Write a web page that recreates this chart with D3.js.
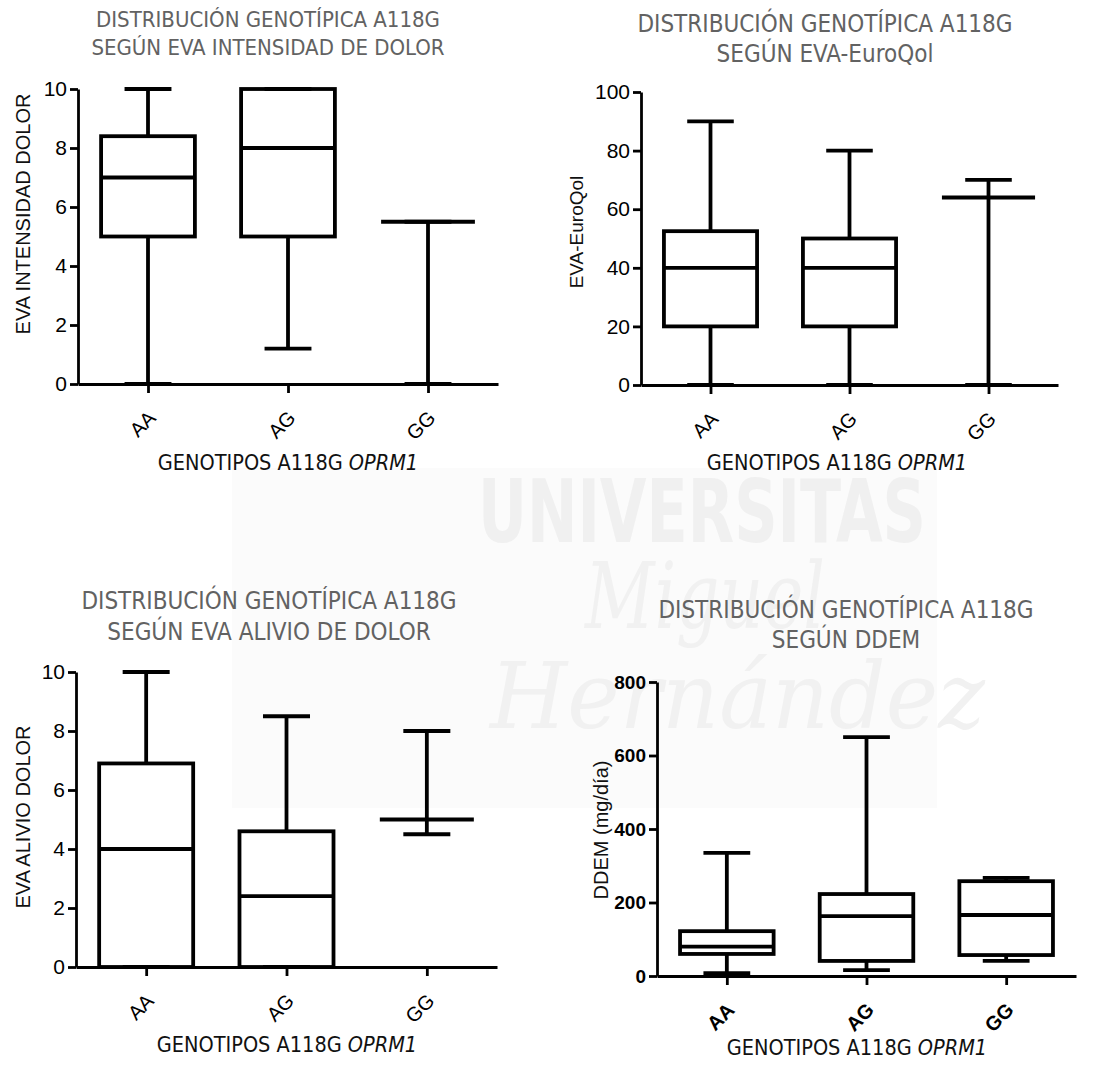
<!DOCTYPE html>
<html>
<head>
<meta charset="utf-8">
<script src="https://cdn.jsdelivr.net/npm/d3@7"></script>
<style>
  body { margin: 0; background: #fff; }
  svg { display: block; }
</style>
</head>
<body>
<div id="chart"></div>
<script>
// genotipos
const genotypes = ['AA', 'AG', 'GG'];

// cada fila: [min, q1, mediana, q3, max]
const intensidadDolor = [[0, 5, 7, 8.4, 10], [1.2, 5, 8, 10, 10], [0, 5.5, 5.5, 5.5, 5.5]];
const evaEuroqol = [[0, 20, 40, 52.5, 90], [0, 20, 40, 50, 80], [0, 64, 64, 64, 70]];
const alivioDolor = [[0, 0, 4, 6.9, 10], [0, 0, 2.4, 4.6, 8.5], [4.5, 5, 5, 5, 8]];
const ddem = [[8, 60, 80, 122, 335], [16, 41, 163, 223, 650], [41, 57, 166, 258, 267]];

const ticksEva = [0, 2, 4, 6, 8, 10];
const ticksEuroqol = [0, 20, 40, 60, 80, 100];
const ticksDdem = [0, 200, 400, 600, 800];

const titleTop = 'DISTRIBUCIÓN GENOTÍPICA A118G';
const xTitle = 'GENOTIPOS A118G ';
const xTitleItalic = 'OPRM1';

const W = 1102, H = 1065;

const svg = d3.select('#chart').append('svg')
  .attr('width', W)
  .attr('height', H);

// marca de agua (muy tenue)
const wm = svg.append('g').attr('class', 'watermark');
wm.append('rect')
  .attr('x', 232).attr('y', 468).attr('width', 705).attr('height', 340)
  .attr('fill', '#fbfbfb');
wm.append('text')
  .attr('x', 478).attr('y', 542)
  .attr('textLength', 448).attr('lengthAdjust', 'spacingAndGlyphs')
  .style('font-family', 'DejaVu Sans Condensed, DejaVu Sans')
  .style('font-weight', 'bold')
  .style('font-size', '88px')
  .style('fill', '#f0f0f0')
  .text('UNIVERSITAS');
wm.append('text')
  .attr('x', 585).attr('y', 628)
  .attr('textLength', 240).attr('lengthAdjust', 'spacingAndGlyphs')
  .style('font-family', 'DejaVu Serif')
  .style('font-style', 'italic')
  .style('font-size', '92px')
  .style('fill', '#f1f1f1')
  .text('Miguel');
wm.append('text')
  .attr('x', 490).attr('y', 728)
  .attr('textLength', 495).attr('lengthAdjust', 'spacingAndGlyphs')
  .style('font-family', 'DejaVu Serif')
  .style('font-style', 'italic')
  .style('font-size', '92px')
  .style('fill', '#f1f1f1')
  .text('Hernández');

const panels = [
  {
    data: intensidadDolor, ticks: ticksEva, max: 10,
    x0: 78, x1: 498, y0: 384, yTop: 89,
    title: [titleTop, 'SEGÚN EVA INTENSIDAD DE DOLOR'], titleX: 268, titleY: [27, 55], titleSize: 22,
    yLabel: 'EVA INTENSIDAD DOLOR', yLabelX: 23, yLabelY: 214, yLabelSize: 20,
    xLabelX: 288, xLabelY: 470, bold: false,
  },
  {
    data: evaEuroqol, ticks: ticksEuroqol, max: 100,
    x0: 641, x1: 1058, y0: 385, yTop: 92,
    title: [titleTop, 'SEGÚN EVA-EuroQol'], titleX: 825, titleY: [32, 62], titleSize: 24,
    yLabel: 'EVA-EuroQol', yLabelX: 576, yLabelY: 232, yLabelSize: 19,
    xLabelX: 837, xLabelY: 470, bold: false,
  },
  {
    data: alivioDolor, ticks: ticksEva, max: 10,
    x0: 76, x1: 497, y0: 967, yTop: 672,
    title: [titleTop, 'SEGÚN EVA ALIVIO DE DOLOR'], titleX: 269, titleY: [609, 640], titleSize: 24,
    yLabel: 'EVA ALIVIO DOLOR', yLabelX: 23, yLabelY: 817, yLabelSize: 20,
    xLabelX: 287, xLabelY: 1052, bold: false,
  },
  {
    data: ddem, ticks: ticksDdem, max: 800,
    x0: 657, x1: 1076, y0: 976, yTop: 682,
    title: [titleTop, 'SEGÚN DDEM'], titleX: 846, titleY: [618, 648], titleSize: 24,
    yLabel: 'DDEM (mg/día)', yLabelX: 601, yLabelY: 830, yLabelSize: 20,
    xLabelX: 857, xLabelY: 1055, bold: true,
  },
];

function drawPanel(p) {
  const g = svg.append('g').attr('class', 'panel');

  const y = d3.scaleLinear().domain([0, p.max]).range([p.y0, p.yTop]);
  const x = d3.scalePoint().domain(genotypes).range([p.x0, p.x1]).padding(0.5);
  const boxW = x.step() * 0.67;
  const capW = boxW / 2;

  // titulo
  g.selectAll('.title')
    .data(p.title)
    .enter()
    .append('text')
      .attr('class', 'title')
      .attr('x', p.titleX)
      .attr('y', (d, i) => p.titleY[i])
      .attr('text-anchor', 'middle')
      .style('font-family', 'DejaVu Sans Condensed, DejaVu Sans')
      .style('font-size', p.titleSize + 'px')
      .style('fill', '#626262')
      .text(d => d);

  // cajas
  const boxes = g.selectAll('.box')
    .data(p.data)
    .enter()
    .append('g')
      .attr('class', 'box')
      .attr('transform', (d, i) => `translate(${x(genotypes[i])},0)`)
      .style('stroke', '#000')
      .style('stroke-width', 3.8)
      .style('fill', 'none');

  boxes.append('line')
    .attr('x1', 0).attr('x2', 0)
    .attr('y1', d => y(d[0])).attr('y2', d => y(d[1]));
  boxes.append('line')
    .attr('x1', 0).attr('x2', 0)
    .attr('y1', d => y(d[3])).attr('y2', d => y(d[4]));
  boxes.append('line')
    .attr('x1', -capW / 2).attr('x2', capW / 2)
    .attr('y1', d => y(d[0])).attr('y2', d => y(d[0]));
  boxes.append('line')
    .attr('x1', -capW / 2).attr('x2', capW / 2)
    .attr('y1', d => y(d[4])).attr('y2', d => y(d[4]));
  boxes.append('rect')
    .attr('x', -boxW / 2)
    .attr('width', boxW)
    .attr('y', d => y(d[3]))
    .attr('height', d => y(d[1]) - y(d[3]))
    .style('fill', 'none');
  boxes.append('line')
    .attr('x1', -boxW / 2).attr('x2', boxW / 2)
    .attr('y1', d => y(d[2])).attr('y2', d => y(d[2]));

  // eje y
  const yAxis = g.append('g')
    .attr('transform', `translate(${p.x0},0)`)
    .call(d3.axisLeft(y).tickValues(p.ticks).tickSize(8).tickSizeOuter(0).tickPadding(3));
  yAxis.selectAll('path, line').style('stroke', '#000').style('stroke-width', 2.8);
  yAxis.selectAll('text')
    .style('font-family', 'Liberation Sans, Arial, sans-serif')
    .style('font-size', p.bold ? '19px' : '21px')
    .style('font-weight', p.bold ? 'bold' : 'normal')
    .style('fill', '#000');

  // eje x
  const xAxis = g.append('g')
    .attr('transform', `translate(0,${p.y0})`)
    .call(d3.axisBottom(x).tickSize(9).tickSizeOuter(0).tickPadding(0));
  xAxis.selectAll('path, line').style('stroke', '#000').style('stroke-width', 2.8);
  xAxis.selectAll('text')
    .attr('text-anchor', 'end')
    .attr('dy', null)
    .attr('transform', 'translate(2,29) rotate(-45)')
    .style('font-family', 'Liberation Sans, Arial, sans-serif')
    .style('font-size', '20px')
    .style('font-weight', p.bold ? 'bold' : 'normal')
    .style('fill', '#000');

  // titulo eje y
  g.append('text')
    .attr('transform', `translate(${p.yLabelX},${p.yLabelY}) rotate(-90)`)
    .attr('text-anchor', 'middle')
    .attr('dy', '0.35em')
    .style('font-family', 'Liberation Sans, Arial, sans-serif')
    .style('font-size', p.yLabelSize + 'px')
    .style('fill', '#111')
    .text(p.yLabel);

  // titulo eje x
  const xl = g.append('text')
    .attr('x', p.xLabelX)
    .attr('y', p.xLabelY)
    .attr('text-anchor', 'middle')
    .style('font-family', 'DejaVu Sans Condensed, DejaVu Sans')
    .style('font-size', '21.5px')
    .style('fill', '#111');
  xl.append('tspan').text(xTitle);
  xl.append('tspan').style('font-style', 'italic').text(xTitleItalic);
}

panels.forEach(drawPanel);
</script>
</body>
</html>
